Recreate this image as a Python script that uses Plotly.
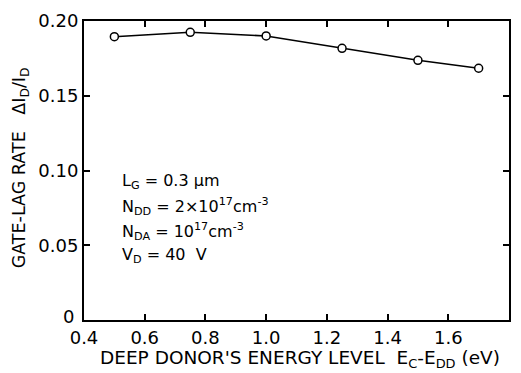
import plotly.graph_objects as go

energy = [0.5, 0.75, 1.0, 1.25, 1.5, 1.7]
gate_lag = [0.1895, 0.1924, 0.190, 0.1817, 0.1737, 0.1684]

x_ticks = [0.4, 0.6, 0.8, 1.0, 1.2, 1.4, 1.6, 1.8]
x_ticktext = ["0.4", "0.6", "0.8", "1.0", "1.2", "1.4", "1.6", "1.8"]
y_ticks = [0, 0.05, 0.10, 0.15, 0.20]
y_ticktext = ["", "0.05", "0.10", "0.15", "0.20"]
y_zero_label = "0"

FONT = "DejaVu Sans"
W, H = 521, 373
L, R, T, B = 84, 10, 21, 53
pw, ph = W - L - R, H - T - B

fig = go.Figure()
fig.add_trace(go.Scatter(
    x=energy, y=gate_lag, mode="lines+markers",
    line=dict(color="black", width=1.5),
    marker=dict(symbol="circle", size=8, color="white",
                line=dict(color="black", width=1.5)),
    showlegend=False,
))

axis_common = dict(
    showline=True, linecolor="black", linewidth=2, mirror="ticks",
    ticks="inside", ticklen=6, tickwidth=1.5, tickcolor="black",
    showgrid=False, zeroline=False,
    tickfont=dict(family=FONT, size=18, color="black"),
)

fig.update_xaxes(range=[0.4, 1.8], tickvals=x_ticks, ticktext=x_ticktext, **axis_common)
fig.update_yaxes(range=[0, 0.20], tickvals=y_ticks, ticktext=y_ticktext, **axis_common)

annotations = [
    dict(text=y_zero_label, xref="paper", yref="y",
         x=(76 - L) / pw, y=y_ticks[0], yshift=4,
         xanchor="right", yanchor="middle", showarrow=False,
         font=dict(family=FONT, size=18, color="black")),
    dict(text="DEEP DONOR'S ENERGY LEVEL  E<sub>C</sub>-E<sub>DD</sub> (eV)",
         xref="paper", yref="paper", x=(301 - L) / pw, y=(H - 359 - B) / ph,
         xanchor="center", yanchor="middle", showarrow=False,
         font=dict(family=FONT, size=18.5, color="black")),
    dict(text="GATE-LAG RATE   ΔI<sub>D</sub>/I<sub>D</sub>",
         xref="paper", yref="paper", x=(20 - L) / pw, y=(H - 168 - B) / ph,
         xanchor="center", yanchor="middle", textangle=-90, showarrow=False,
         font=dict(family=FONT, size=17.5, color="black")),
]

param_lines = [
    "L<sub>G</sub> = 0.3 μm",
    "N<sub>DD</sub> = 2×10<sup>17</sup>cm<sup>-3</sup>",
    "N<sub>DA</sub> = 10<sup>17</sup>cm<sup>-3</sup>",
    "V<sub>D</sub> = 40  V",
]
ys = [181, 206, 231, 255]
for txt, yp in zip(param_lines, ys):
    annotations.append(dict(
        text=txt, xref="paper", yref="paper",
        x=(120 - L) / pw, y=(H - yp - B) / ph,
        xanchor="left", yanchor="middle", showarrow=False,
        font=dict(family=FONT, size=16, color="black")))

fig.update_layout(
    width=W, height=H,
    margin=dict(l=L, r=R, t=T, b=B),
    paper_bgcolor="white", plot_bgcolor="white",
    annotations=annotations,
)

fig.write_html("out.html")
